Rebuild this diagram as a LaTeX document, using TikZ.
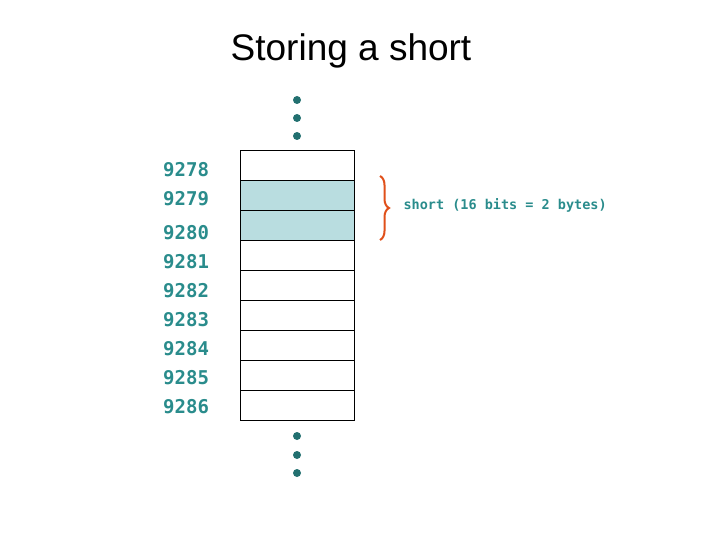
\documentclass[tikz,border=0pt]{standalone}
\usepackage{fontspec}
\setmainfont{Liberation Sans}
\newfontfamily\addrfont{DejaVu Sans Mono}
\usetikzlibrary{decorations.pathreplacing}
\definecolor{tealtxt}{HTML}{2A8C8C}
\definecolor{cellblue}{HTML}{B9DDE0}
\definecolor{bracered}{HTML}{E0501A}
\begin{document}
\begin{tikzpicture}[x=1pt,y=-1pt,
  cell/.style={draw,line width=0.8pt,minimum width=114pt,minimum height=30pt,inner sep=0pt},
  addr/.style={text=tealtxt,font=\addrfont\bfseries\fontsize{19}{19}\selectfont,anchor=west,inner sep=0pt},
  vdot/.style={circle,fill=tealtxt!80!black,inner sep=0pt,minimum size=8pt}]
\useasboundingbox (0,0) rectangle (720,540);
\node[font=\fontsize{37}{37}\selectfont] (title) at (351,51) {Storing a short};
% memory cells
\foreach \i in {0,...,8}
  \node[cell] (c\i) at (297,165+30*\i) {};
\foreach \i in {1,2}
  \node[cell,fill=cellblue] at (297,165+30*\i) {};
% addresses
\foreach \a/\y in {9278/170,9279/199,9280/233,9281/262,9282/291,9283/320,9284/349,9285/378,9286/407}
  \node[addr] (a\a) at (163,\y) {\a};
% dots
\foreach \y in {100,118,136,436,455,473}
  \node[vdot] at (297,\y) {};
% brace
\coordinate (bt) at (380,176);
\coordinate (bb) at (380,240);
\draw[bracered,line width=2pt,decorate,decoration={brace,amplitude=9pt}] (bt) -- (bb);
\node[text=tealtxt,font=\addrfont\bfseries\fontsize{13.5}{13.5}\selectfont,anchor=west] (lbl) at (400,205) {short (16 bits = 2 bytes)};
\end{tikzpicture}
\end{document}
